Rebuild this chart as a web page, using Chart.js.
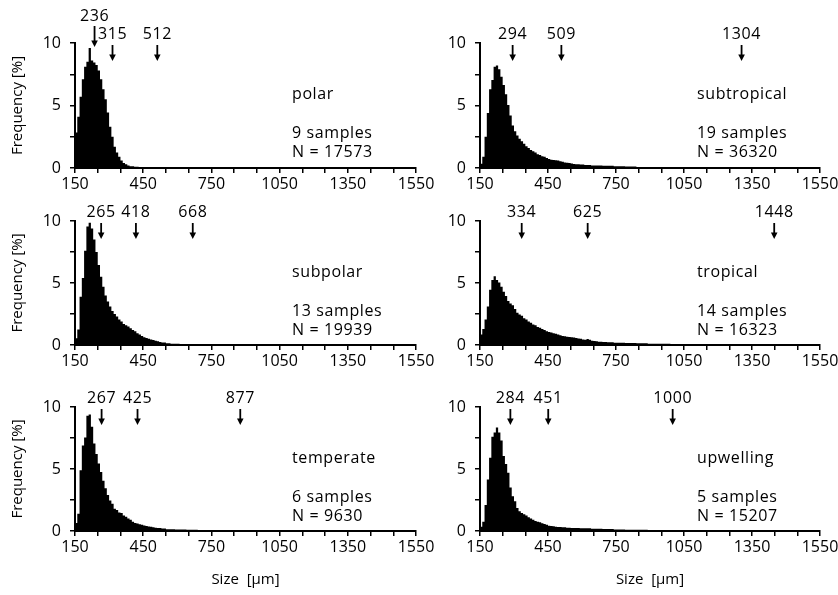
<!DOCTYPE html>
<html><head><meta charset="utf-8">
<script src="https://cdn.jsdelivr.net/npm/chart.js@4/dist/chart.umd.min.js"></script>
<style>
html,body{margin:0;padding:0;background:#fff;}
body{width:838px;height:595px;position:relative;overflow:hidden;}
canvas{position:absolute;}
</style></head><body>
<script>
// ---- data (10 µm bins starting at 150 µm, frequency in %) ----
const binStart = 150;
const binWidth = 10;

const polarValues = [1.1, 2.85, 4.1, 5.7, 7.1, 8.1, 8.5, 9.6, 8.6, 8.45, 8.25, 7.8, 7.1, 6.3, 5.5, 4.45, 3.3, 2.5, 1.7, 1.25, 0.9, 0.6, 0.4, 0.3, 0.2, 0.15, 0.15, 0.1, 0.1, 0.05, 0.05, 0.05];

const subtropicalValues = [0.2, 0.35, 0.9, 2.5, 4.4, 6.3, 7.05, 8.1, 8.2, 7.9, 7.3, 6.65, 5.9, 5.05, 4.2, 3.4, 2.95, 2.6, 2.35, 2.15, 1.95, 1.75, 1.6, 1.45, 1.35, 1.25, 1.1, 1.05, 0.95, 0.9, 0.8, 0.72, 0.67, 0.65, 0.62, 0.6, 0.55, 0.5, 0.45, 0.42, 0.4, 0.37, 0.33, 0.3, 0.3, 0.28, 0.28, 0.25, 0.25, 0.25, 0.2, 0.2, 0.2, 0.2, 0.2, 0.18, 0.18, 0.18, 0.18, 0.18, 0.15, 0.15, 0.15, 0.15, 0.15, 0.12, 0.12, 0.12, 0.12, 0.12, 0.08, 0.08, 0.08, 0.08, 0.08, 0.05, 0.05, 0.05, 0.05, 0.05, 0.05, 0.05, 0.05, 0.05, 0.05, 0.03, 0.03, 0.03, 0.03, 0.03, 0.03, 0.03, 0.03, 0.03, 0.03];

const subpolarValues = [0.2, 0.55, 1.25, 3.9, 5.4, 7.6, 9.55, 9.85, 9.4, 8.5, 7.5, 6.45, 5.5, 4.7, 4.0, 3.5, 3.1, 2.75, 2.5, 2.3, 2.05, 1.9, 1.7, 1.6, 1.5, 1.35, 1.2, 1.1, 0.95, 0.85, 0.72, 0.62, 0.57, 0.5, 0.45, 0.4, 0.35, 0.3, 0.25, 0.2, 0.2, 0.15, 0.15, 0.1, 0.1, 0.1, 0.1, 0.05, 0.05, 0.05, 0.05, 0.05, 0.05, 0.05, 0.05];

const tropicalValues = [0.7, 0.85, 1.3, 2.05, 3.1, 4.45, 5.25, 5.55, 5.25, 5.05, 4.7, 4.3, 3.95, 3.55, 3.35, 3.2, 2.9, 2.6, 2.45, 2.35, 2.15, 2.05, 1.9, 1.8, 1.65, 1.6, 1.45, 1.4, 1.3, 1.2, 1.1, 1.05, 1.0, 0.95, 0.9, 0.85, 0.78, 0.72, 0.7, 0.67, 0.65, 0.62, 0.6, 0.56, 0.53, 0.5, 0.45, 0.43, 0.48, 0.43, 0.35, 0.32, 0.3, 0.27, 0.27, 0.25, 0.25, 0.22, 0.22, 0.22, 0.19, 0.19, 0.19, 0.19, 0.19, 0.16, 0.16, 0.16, 0.16, 0.16, 0.14, 0.14, 0.14, 0.14, 0.14, 0.11, 0.11, 0.11, 0.11, 0.11, 0.11, 0.11, 0.11, 0.11, 0.11, 0.08, 0.08, 0.08, 0.08, 0.08, 0.08, 0.08, 0.08, 0.08, 0.08, 0.05, 0.05, 0.05, 0.05, 0.05, 0.05, 0.05, 0.05, 0.05, 0.05, 0.05, 0.05, 0.05, 0.05, 0.05, 0.05, 0.05, 0.05, 0.05, 0.05, 0.03, 0.03, 0.03, 0.03, 0.03, 0.03, 0.03, 0.03, 0.03, 0.03, 0.03, 0.03, 0.03, 0.03, 0.03];

const temperateValues = [0.35, 0.65, 1.4, 4.9, 6.9, 7.55, 9.3, 9.4, 8.4, 7.05, 6.2, 5.45, 4.75, 4.05, 3.45, 2.9, 2.45, 2.2, 1.8, 1.7, 1.5, 1.45, 1.25, 1.15, 1.0, 0.9, 0.75, 0.65, 0.6, 0.55, 0.5, 0.45, 0.4, 0.37, 0.35, 0.3, 0.27, 0.24, 0.24, 0.2, 0.2, 0.15, 0.15, 0.15, 0.15, 0.12, 0.12, 0.12, 0.12, 0.12, 0.1, 0.1, 0.1, 0.1, 0.1, 0.05, 0.05, 0.05, 0.05, 0.05, 0.05, 0.05, 0.05, 0.05, 0.05];

const upwellingValues = [0.08, 0.35, 0.75, 2.1, 4.15, 5.9, 7.6, 7.95, 8.35, 7.95, 7.3, 6.05, 5.4, 4.7, 3.5, 2.8, 2.4, 1.85, 1.6, 1.45, 1.35, 1.25, 1.1, 1.0, 0.9, 0.8, 0.75, 0.7, 0.62, 0.57, 0.5, 0.43, 0.4, 0.38, 0.35, 0.32, 0.32, 0.3, 0.3, 0.27, 0.27, 0.24, 0.24, 0.24, 0.24, 0.22, 0.22, 0.22, 0.22, 0.22, 0.19, 0.19, 0.19, 0.19, 0.19, 0.16, 0.16, 0.16, 0.16, 0.16, 0.13, 0.13, 0.13, 0.13, 0.13, 0.1, 0.1, 0.1, 0.1, 0.1, 0.1, 0.1, 0.1, 0.1, 0.1, 0.07, 0.07, 0.07, 0.07, 0.07, 0.07, 0.07, 0.07, 0.07, 0.07, 0.05, 0.05, 0.05, 0.05, 0.05, 0.05, 0.05, 0.05, 0.05, 0.05];

// marked sizes (arrows) per region
const polarMarkers = [236, 315, 512];
const subtropicalMarkers = [294, 509, 1304];
const subpolarMarkers = [265, 418, 668];
const tropicalMarkers = [334, 625, 1448];
const temperateMarkers = [267, 425, 877];
const upwellingMarkers = [284, 451, 1000];

const regionNames = ['polar', 'subtropical', 'subpolar', 'tropical', 'temperate', 'upwelling'];
const sampleCounts = [9, 19, 13, 14, 6, 5];
const totalCounts = [17573, 36320, 19939, 16323, 9630, 15207];

const xTickLabels = ['150', '450', '750', '1050', '1350', '1550'];
const yTickLabels = ['0', '5', '10'];
const yTitle = 'Frequency [%]';
const xTitle = 'Size  [µm]';

const seriesValues = [polarValues, subtropicalValues, subpolarValues, tropicalValues, temperateValues, upwellingValues];
const seriesMarkers = [polarMarkers, subtropicalMarkers, subpolarMarkers, tropicalMarkers, temperateMarkers, upwellingMarkers];

// ---- drawing ----
const FONT = "'Open Sans', 'DejaVu Sans', sans-serif";
const FS = 16;
Chart.defaults.font.family = FONT;
Chart.defaults.font.size = FS;
Chart.defaults.color = '#000';

const annotatePlugin = {
  id: 'annotate',
  afterDraw(chart) {
    const o = chart.options.plugins.annotate;
    const ctx = chart.ctx;
    const xs = chart.scales.x;
    const area = chart.chartArea;
    ctx.save();
    ctx.fillStyle = '#000';
    ctx.strokeStyle = '#000';
    ctx.font = FS + 'px ' + FONT;
    ctx.letterSpacing = '0.6px';
    ctx.textAlign = 'center';
    ctx.textBaseline = 'middle';
    const px = o.markers.map(v => xs.getPixelForValue(v));
    px.forEach((x, i) => {
      const raised = i < px.length - 1 && px[i + 1] - x < 25;
      const labelY = raised ? area.top - 27 : area.top - 9;
      const y0 = raised ? area.top - 17 : area.top + 2;
      const y1 = raised ? area.top + 4 : area.top + 18;
      ctx.fillText(String(o.markers[i]), x, labelY);
      ctx.lineWidth = 1.8;
      ctx.beginPath();
      ctx.moveTo(x, y0);
      ctx.lineTo(x, y1 - 5);
      ctx.stroke();
      ctx.beginPath();
      ctx.moveTo(x - 3.3, y1 - 6.5);
      ctx.lineTo(x + 3.3, y1 - 6.5);
      ctx.lineTo(x, y1);
      ctx.closePath();
      ctx.fill();
    });
    ctx.textAlign = 'left';
    const tx = area.left + 217;
    ctx.fillText(o.name, tx, area.top + 51);
    ctx.fillText(o.samples + ' samples', tx, area.top + 90);
    ctx.fillText('N = ' + o.total, tx, area.top + 109);
    ctx.restore();
  }
};

const rowTops = [43, 221, 407];
const rowBottoms = [168, 345, 531];

function makeChart(idx) {
  const col = idx % 2, row = Math.floor(idx / 2);
  const chartTop = rowTops[row], chartBottom = rowBottoms[row];
  const canvasLeft = col ? 420 : 0;
  const canvasWidth = col ? 418 : 455;
  const yAxisW = col ? 60 : 75;
  const chartRight = col ? 820 : 416;
  const padRight = canvasWidth - (chartRight - canvasLeft);
  const canvasTop = chartTop - 43;
  const xAxisH = row === 2 ? 64 : 35;
  const canvasHeight = chartBottom - canvasTop + xAxisH;

  const cv = document.createElement('canvas');
  cv.width = canvasWidth; cv.height = canvasHeight;
  cv.style.left = canvasLeft + 'px'; cv.style.top = canvasTop + 'px';
  cv.style.width = canvasWidth + 'px'; cv.style.height = canvasHeight + 'px';
  document.body.appendChild(cv);

  // histogram outline: each bin value held from its left edge to the next edge
  const values = seriesValues[idx];
  const data = values.map((v, i) => ({ x: binStart + i * binWidth, y: v }));
  data.push({ x: binStart + values.length * binWidth, y: 0 });

  new Chart(cv, {
    type: 'line',
    data: { datasets: [{ data, stepped: 'after', fill: 'origin', backgroundColor: '#000', borderColor: '#000', borderWidth: 0, pointRadius: 0 }] },
    plugins: [annotatePlugin],
    options: {
      responsive: false,
      animation: false,
      devicePixelRatio: 1,
      layout: { padding: { top: 43, left: 0, right: padRight, bottom: 0 } },
      plugins: {
        legend: { display: false },
        tooltip: { enabled: false },
        annotate: { markers: seriesMarkers[idx], name: regionNames[idx], samples: sampleCounts[idx], total: totalCounts[idx] }
      },
      scales: {
        x: {
          type: 'linear', min: 150, max: 1650, offset: false,
          grid: { display: true, drawOnChartArea: false, drawTicks: true, tickLength: 5, color: '#000', lineWidth: 1.5, offset: false },
          border: { display: true, color: '#000', width: 2 },
          ticks: {
            autoSkip: false, maxRotation: 0, padding: 2, font: { size: FS },
            callback: (v, i) => (i % 3 === 0 ? xTickLabels[i / 3] : '')
          },
          afterBuildTicks: s => { const t = []; for (let v = 150; v <= 1650; v += 100) t.push({ value: v }); s.ticks = t; },
          afterFit: s => { s.height = xAxisH; s.paddingLeft = 0; s.paddingRight = 0; },
          title: { display: row === 2, text: xTitle, font: { size: 15 }, padding: { top: 4, bottom: 6 } }
        },
        y: {
          min: 0, max: 10,
          grid: { display: true, drawOnChartArea: false, drawTicks: true, tickLength: 5, color: '#000', lineWidth: 1.5 },
          border: { display: true, color: '#000', width: 2 },
          ticks: {
            padding: 9, font: { size: FS },
            callback: (v, i) => (i % 2 === 0 ? yTickLabels[i / 2] : '')
          },
          afterBuildTicks: s => { s.ticks = [0, 2.5, 5, 7.5, 10].map(v => ({ value: v })); },
          afterFit: s => { s.width = yAxisW; s.paddingTop = 0; s.paddingBottom = 0; },
          title: { display: col === 0, text: yTitle, font: { size: 15 }, padding: { top: 9, bottom: 0 } }
        }
      }
    }
  });
}

for (let i = 0; i < 6; i++) makeChart(i);
</script>
</body></html>
